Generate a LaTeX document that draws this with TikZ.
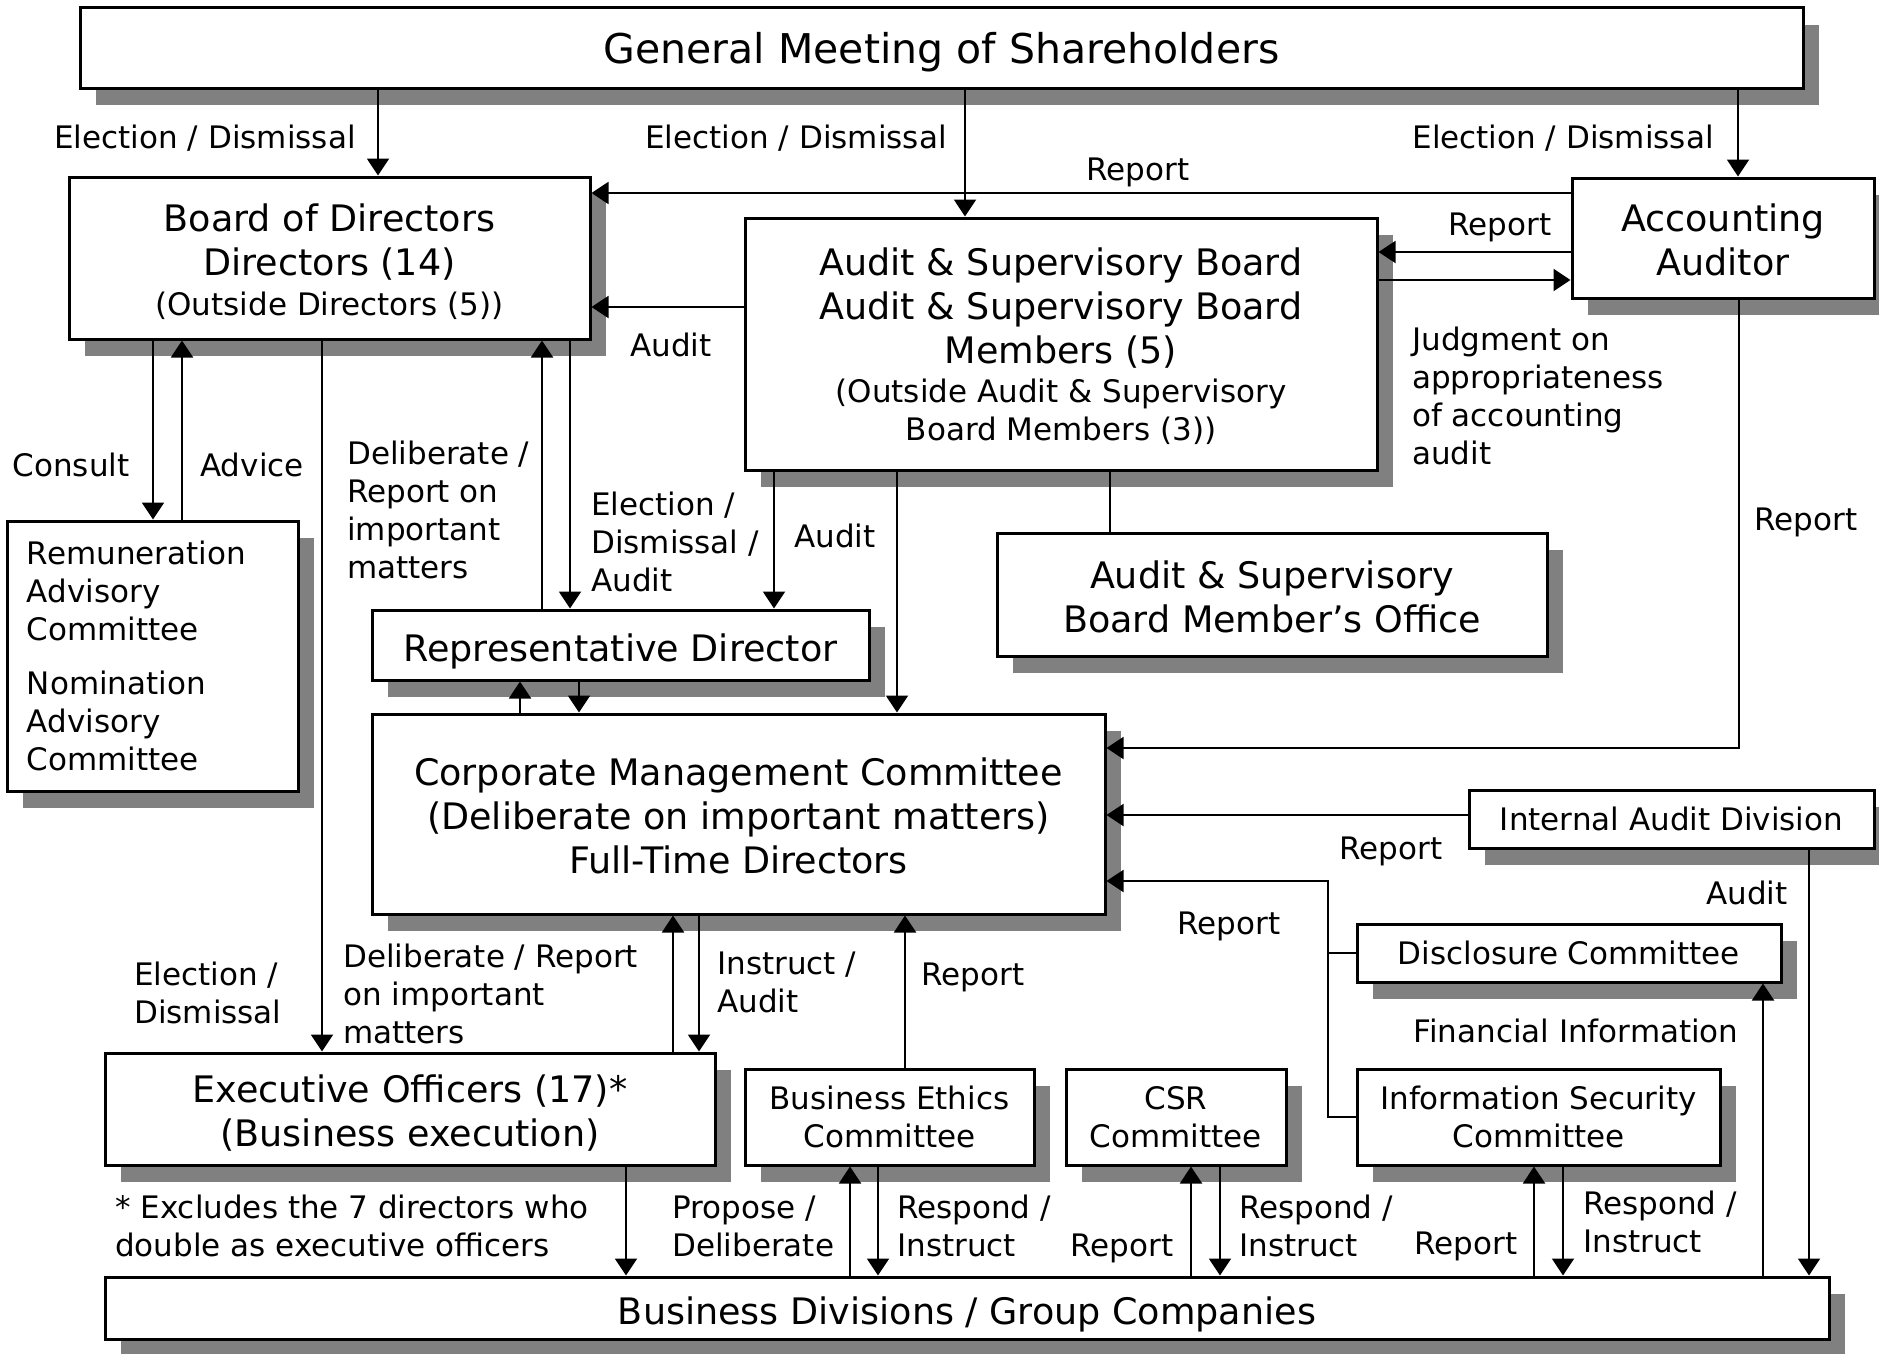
\documentclass[tikz,border=0pt]{standalone}
\usepackage{fontspec}
\setmainfont{DejaVu Sans}
\usetikzlibrary{arrows.meta,shadows}
\definecolor{shade}{RGB}{128,128,128}
\newcommand\fGM{\fontsize{41}{48}\selectfont}
\newcommand\fBox{\fontsize{36.5}{44}\selectfont}
\newcommand\fLab{\fontsize{31}{38}\selectfont}
\newcommand\up[1]{\rule{0pt}{#1pt}}
\begin{document}
\begin{tikzpicture}[x=1pt,y=-1pt,
  box/.style={draw, line width=3pt, fill=white, inner sep=0pt, align=center, font=\fBox,
     drop shadow={shadow xshift=16pt, shadow yshift=-17pt, fill=shade, opacity=1}},
  arr/.style={line width=2pt, -{Triangle[length=17pt,width=22pt]}},
  conn/.style={line width=2pt},
  lab/.style={inner sep=0pt, font=\fLab, align=left},
  lab1/.style={inner sep=0pt, font=\fLab, text depth=0pt}]
\useasboundingbox (0,0) rectangle (1879,1354);
% boxes
\node[box, font=\fGM, text depth=0pt, minimum width=1723pt, minimum height=80pt] (gm) at (941.5,48) {General Meeting of Shareholders};
\node[box, minimum width=521pt, minimum height=162pt] (bod) at (329.5,258) {\up{35}Board of Directors\\Directors (14)\\[-4pt]{\fLab (Outside Directors (5))}};
\node[box, minimum width=632pt, minimum height=252pt] (asb) at (1061,344) {\up{33}Audit \& Supervisory Board\\Audit \& Supervisory Board\\Members (5)\\[-5pt]{\fLab (Outside Audit \& Supervisory}\\[-6pt]{\fLab Board Members (3))}};
\node[box, minimum width=302pt, minimum height=120pt] (aa) at (1723,238) {\up{32}Accounting\\Auditor};
\node[box, font=\fLab, align=left, inner xsep=20pt, text width=251pt, minimum height=270pt] (rem) at (152.5,656) {Remuneration\\Advisory\\Committee\\[16pt]Nomination\\Advisory\\Committee};
\node[box, text height=32.5pt, text depth=0pt, minimum width=497pt, minimum height=70pt] (rep) at (620.5,645) {Representative Director};
\node[box, minimum width=550pt, minimum height=123pt] (office) at (1272,594.5) {\up{33}Audit \& Supervisory\\Board Member’s Office};
\node[box, minimum width=733pt, minimum height=200pt] (cmc) at (738.5,814) {\up{32}Corporate Management Committee\\(Deliberate on important matters)\\Full-Time Directors};
\node[box, font=\fLab, minimum width=405pt, minimum height=58pt] (iad) at (1671.5,819) {Internal Audit Division};
\node[box, font=\fLab, minimum width=424pt, minimum height=58pt] (disc) at (1569,953) {Disclosure Committee};
\node[box, font=\fLab, minimum width=363pt, minimum height=96pt] (infosec) at (1538.5,1117) {Information Security\\Committee};
\node[box, font=\fLab, minimum width=220pt, minimum height=96pt] (csr) at (1176,1117) {CSR\\Committee};
\node[box, font=\fLab, minimum width=289pt, minimum height=96pt] (bec) at (889.5,1117) {Business Ethics\\Committee};
\node[box, minimum width=610pt, minimum height=112pt] (exec) at (410,1109) {\up{35}Executive Officers (17)*\\(Business execution)};
\node[box, text height=32.5pt, text depth=0pt, minimum width=1724pt, minimum height=62pt] (bdiv) at (967,1308) {Business Divisions / Group Companies};
% connectors
\draw[arr] (378,0 |- gm.south) -- (378,0 |- bod.north);
\draw[arr] (965,0 |- gm.south) -- (965,0 |- asb.north);
\draw[arr] (1738,0 |- gm.south) -- (1738,0 |- aa.north);
\draw[arr] (aa.west |- 0,193) -- (bod.east |- 0,193);
\draw[arr] (aa.west |- 0,252) -- (asb.east |- 0,252);
\draw[arr] (asb.east |- 0,280) -- (aa.west |- 0,280);
\draw[arr] (asb.west |- 0,307) -- (bod.east |- 0,307);
\draw[arr] (1739,0 |- aa.south) -- (1739,748) -- (cmc.east |- 0,748);
\draw[conn] (1110,0 |- asb.south) -- (1110,0 |- office.north);
\draw[arr] (153,0 |- bod.south) -- (153,0 |- rem.north);
\draw[arr] (182,0 |- rem.north) -- (182,0 |- bod.south);
\draw[arr] (322,0 |- bod.south) -- (322,0 |- exec.north);
\draw[arr] (542,0 |- rep.north) -- (542,0 |- bod.south);
\draw[arr] (570,0 |- bod.south) -- (570,0 |- rep.north);
\draw[arr] (774,0 |- asb.south) -- (774,0 |- rep.north);
\draw[arr] (897,0 |- asb.south) -- (897,0 |- cmc.north);
\draw[arr] (520,0 |- cmc.north) -- (520,0 |- rep.south);
\draw[arr] (579,0 |- rep.south) -- (579,0 |- cmc.north);
\draw[arr] (iad.west |- 0,815) -- (cmc.east |- 0,815);
\draw[conn] (disc.west) -- (1328,0 |- disc.west);
\draw[arr] (infosec.west) -- (1328,0 |- infosec.west) -- (1328,881) -- (cmc.east |- 0,881);
\draw[arr] (1809,0 |- iad.south) -- (1809,0 |- bdiv.north);
\draw[arr] (1763,0 |- bdiv.north) -- (1763,0 |- disc.south);
\draw[arr] (673,0 |- exec.north) -- (673,0 |- cmc.south);
\draw[arr] (699,0 |- cmc.south) -- (699,0 |- exec.north);
\draw[arr] (905,0 |- bec.north) -- (905,0 |- cmc.south);
\draw[arr] (626,0 |- exec.south) -- (626,0 |- bdiv.north);
\draw[arr] (850,0 |- bdiv.north) -- (850,0 |- bec.south);
\draw[arr] (878,0 |- bec.south) -- (878,0 |- bdiv.north);
\draw[arr] (1191,0 |- bdiv.north) -- (1191,0 |- csr.south);
\draw[arr] (1220,0 |- csr.south) -- (1220,0 |- bdiv.north);
\draw[arr] (1534,0 |- bdiv.north) -- (1534,0 |- infosec.south);
\draw[arr] (1563,0 |- infosec.south) -- (1563,0 |- bdiv.north);
% labels
\node[lab1] (l1) at (205,137) {Election / Dismissal};
\node[lab1] (l2) at (796,137) {Election / Dismissal};
\node[lab1] (l3) at (1563,137) {Election / Dismissal};
\node[lab1] (l4) at (1138,169) {Report};
\node[lab1] (l5) at (1500,224) {Report};
\node[lab1] (l6) at (671,345) {Audit};
\node[lab, anchor=west] (l7) at (1412,396) {Judgment on\\appropriateness\\of accounting\\audit};
\node[lab1] (l8) at (1806,519) {Report};
\node[lab1] (l9) at (71,465) {Consult};
\node[lab1] (l10) at (252,465) {Advice};
\node[lab, anchor=west] (l11) at (347,510) {Deliberate /\\Report on\\important\\matters};
\node[lab, anchor=west] (l12) at (591,542) {Election /\\Dismissal /\\Audit};
\node[lab1] (l13) at (835,536) {Audit};
\node[lab1] (l14) at (1391,848) {Report};
\node[lab1] (l15) at (1229,923) {Report};
\node[lab1] (l16) at (1747,893) {Audit};
\node[lab1] (l17) at (1576,1031) {Financial Information};
\node[lab, anchor=west] (l18) at (134,993) {Election /\\Dismissal};
\node[lab, anchor=west] (l19) at (343,994) {Deliberate / Report\\on important\\matters};
\node[lab, anchor=west] (l20) at (717,982) {Instruct /\\Audit};
\node[lab1] (l21) at (973,974) {Report};
\node[lab, anchor=west] (l22) at (115,1226) {* Excludes the 7 directors who\\double as executive officers};
\node[lab, anchor=west] (l23) at (672,1226) {Propose /\\Deliberate};
\node[lab, anchor=west] (l24) at (897,1226) {Respond /\\Instruct};
\node[lab1] (l25) at (1122,1245) {Report};
\node[lab, anchor=west] (l26) at (1239,1226) {Respond /\\Instruct};
\node[lab1] (l27) at (1466,1243) {Report};
\node[lab, anchor=west] (l28) at (1583,1222) {Respond /\\Instruct};
\end{tikzpicture}
\end{document}
